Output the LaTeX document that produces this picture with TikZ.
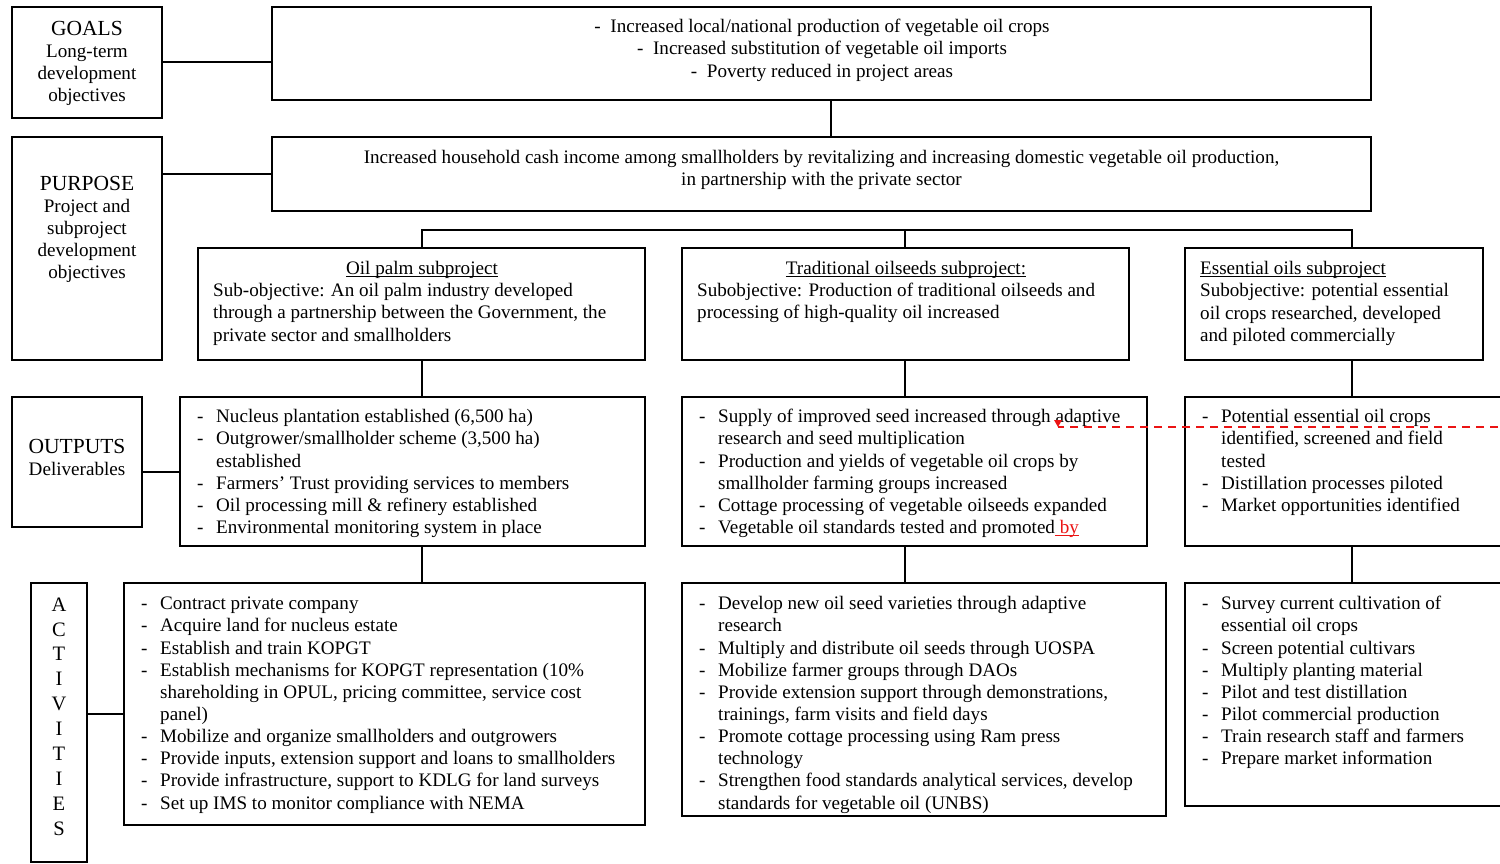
\documentclass[tikz,border=0pt]{standalone}
\usepackage{fontspec}
\setmainfont{Liberation Serif}
\usetikzlibrary{fit}
\newcommand\itemdash{\makebox[19pt][l]{-}}
\newcommand\itemind{\hspace*{19pt}}
\newcommand\cdash{\makebox[16pt][l]{-}}
\newcommand\wul[2][black]{\leavevmode\setbox0\hbox{#2}\rlap{\color{#1}\rule[-2.6pt]{\wd0}{1pt}}\box0}
\newcommand\bodyfont{\fontsize{19.1}{22.15}\selectfont}
\newcommand\headfont{\fontsize{21.5}{22.15}\selectfont}
\definecolor{trackred}{RGB}{235,20,20}
\begin{document}
\begin{tikzpicture}[x=1pt,y=-1pt,
  bx/.style={draw, line width=1.3pt, inner sep=0pt, rectangle},
  link/.style={line width=1.3pt},
  txt/.style={anchor=north west, inner sep=0pt, align=left, font=\bodyfont},
  ctxt/.style={anchor=north, inner sep=0pt, align=center, font=\bodyfont}]
\useasboundingbox (0,0) rectangle (1500,863);
\clip (0,0) rectangle (1500,863);
% boxes
\node[bx, fit={(12,7)(162,118)}] (goals) {};
\node[bx, fit={(272,7)(1371,100)}] (goalsc) {};
\node[bx, fit={(12,137)(162,360)}] (purp) {};
\node[bx, fit={(272,137)(1371,211)}] (purpc) {};
\node[bx, fit={(198,248)(645,360)}] (sub1) {};
\node[bx, fit={(682,248)(1129,360)}] (sub2) {};
\node[bx, fit={(1185,248)(1483,360)}] (sub3) {};
\node[bx, fit={(12,397)(142,527)}] (outs) {};
\node[bx, fit={(180,397)(645,546)}] (out1) {};
\node[bx, fit={(682,397)(1147,546)}] (out2) {};
\node[bx, fit={(1185,397)(1540,546)}] (out3) {};
\node[bx, fit={(31,583)(87,862)}] (acts) {};
\node[bx, fit={(124,583)(645,825)}] (act1) {};
\node[bx, fit={(682,583)(1166,816)}] (act2) {};
\node[bx, fit={(1185,583)(1540,806)}] (act3) {};
% guide coordinates
\coordinate (c0) at (831,0);
\coordinate (c1) at (422,0);
\coordinate (c2) at (905,0);
\coordinate (c3) at (1352,0);
\coordinate (bar) at (0,230);
\coordinate (gy) at (0,62);
\coordinate (oy) at (0,472);
\coordinate (ay) at (0,714);
% connectors
\draw[link] (goals.east |- gy) -- (goalsc.west |- gy);
\draw[link] (goalsc.south -| c0) -- (purpc.north -| c0);
\draw[link] (purp.east |- purpc.west) -- (purpc.west);
\draw[link] (sub1.north -| c1) -- (bar -| c1) -- (bar -| c3) -- (sub3.north -| c3);
\draw[link] (bar -| c2) -- (sub2.north -| c2);
\draw[link] (sub1.south -| c1) -- (out1.north -| c1);
\draw[link] (sub2.south -| c2) -- (out2.north -| c2);
\draw[link] (sub3.south -| c3) -- (out3.north -| c3);
\draw[link] (outs.east |- oy) -- (out1.west |- oy);
\draw[link] (out1.south -| c1) -- (act1.north -| c1);
\draw[link] (out2.south -| c2) -- (act2.north -| c2);
\draw[link] (out3.south -| c3) -- (act3.north -| c3);
\draw[link] (acts.east |- ay) -- (act1.west |- ay);
% left headings
\node[ctxt] (tgoals) at (87,19.5) {{\headfont\strut GOALS}\\Long-term\\development\\objectives};
\node[ctxt] (tpurp) at (87,174.5) {{\headfont\strut PURPOSE}\\Project and\\subproject\\development\\objectives};
\node[ctxt] (touts) at (77,437.5) {{\headfont\strut OUTPUTS}\\Deliverables};
\node[anchor=north, inner sep=0pt, align=center, font=\fontsize{20.5}{24.9}\selectfont] (tacts) at (59,593.5) {\strut A\\C\\T\\I\\V\\I\\T\\I\\E\\S};
% goals and purpose
\node[ctxt] (tgoalsc) at (822,17) {\strut\cdash Increased local/national production of vegetable oil crops\\
\cdash Increased substitution of vegetable oil imports\\
\cdash Poverty reduced in project areas};
\node[ctxt] (tpurpc) at (821.5,148) {\strut Increased household cash income among smallholders by revitalizing and increasing domestic vegetable oil production,\\
in partnership with the private sector};
% subprojects
\node[ctxt] (ts1h) at (422,259) {\strut\wul{Oil palm subproject}};
\node[txt] (ts1) at (213,281) {\strut Sub-objective: An oil palm industry developed\\
through a partnership between the Government, the\\
private sector and smallholders};
\node[ctxt] (ts2h) at (906,259) {\strut\wul{Traditional oilseeds subproject:}};
\node[txt] (ts2) at (697,281) {\strut Subobjective: Production of traditional oilseeds and\\
processing of high-quality oil increased};
\node[txt] (ts3) at (1200,259) {\strut\wul{Essential oils subproject}\\
Subobjective: potential essential\\
oil crops researched, developed\\
and piloted commercially};
% outputs
\node[txt] (to1) at (197,407) {\strut\itemdash Nucleus plantation established (6,500 ha)\\
\itemdash Outgrower/smallholder scheme (3,500 ha)\\
\itemind established\\
\itemdash Farmers’ Trust providing services to members\\
\itemdash Oil processing mill \& refinery established\\
\itemdash Environmental monitoring system in place};
\node[txt] (to2) at (699,407) {\strut\itemdash Supply of improved seed increased through adaptive\\
\itemind research and seed multiplication\\
\itemdash Production and yields of vegetable oil crops by\\
\itemind smallholder farming groups increased\\
\itemdash Cottage processing of vegetable oilseeds expanded\\
\itemdash Vegetable oil standards tested and promoted\wul[trackred]{\textcolor{trackred}{\ by}}};
\node[txt] (to3) at (1202,407) {\strut\itemdash Potential essential oil crops\\
\itemind identified, screened and field\\
\itemind tested\\
\itemdash Distillation processes piloted\\
\itemdash Market opportunities identified};
% comment marker
\coordinate (cmA) at (1058,427);
\coordinate (cmB) at (1540,427);
\draw[draw=trackred, line width=1.3pt, dash pattern=on 8pt off 6pt] (cmB) -- (cmA);
\fill[trackred] (1054,420) -- (1062,420) -- (cmA) -- cycle;
% activities
\node[txt] (ta1) at (141,594) {\strut\itemdash Contract private company\\
\itemdash Acquire land for nucleus estate\\
\itemdash Establish and train KOPGT\\
\itemdash Establish mechanisms for KOPGT representation (10\%\\
\itemind shareholding in OPUL, pricing committee, service cost\\
\itemind panel)\\
\itemdash Mobilize and organize smallholders and outgrowers\\
\itemdash Provide inputs, extension support and loans to smallholders\\
\itemdash Provide infrastructure, support to KDLG for land surveys\\
\itemdash Set up IMS to monitor compliance with NEMA};
\begin{scope}
\clip (682,583) rectangle (1166,813);
\node[txt] (ta2) at (699,594) {\strut\itemdash Develop new oil seed varieties through adaptive\\
\itemind research\\
\itemdash Multiply and distribute oil seeds through UOSPA\\
\itemdash Mobilize farmer groups through DAOs\\
\itemdash Provide extension support through demonstrations,\\
\itemind trainings, farm visits and field days\\
\itemdash Promote cottage processing using Ram press\\
\itemind technology\\
\itemdash Strengthen food standards analytical services, develop\\
\itemind standards for vegetable oil (UNBS)};
\end{scope}
\node[txt] (ta3) at (1202,594) {\strut\itemdash Survey current cultivation of\\
\itemind essential oil crops\\
\itemdash Screen potential cultivars\\
\itemdash Multiply planting material\\
\itemdash Pilot and test distillation\\
\itemdash Pilot commercial production\\
\itemdash Train research staff and farmers\\
\itemdash Prepare market information};
\end{tikzpicture}
\end{document}
